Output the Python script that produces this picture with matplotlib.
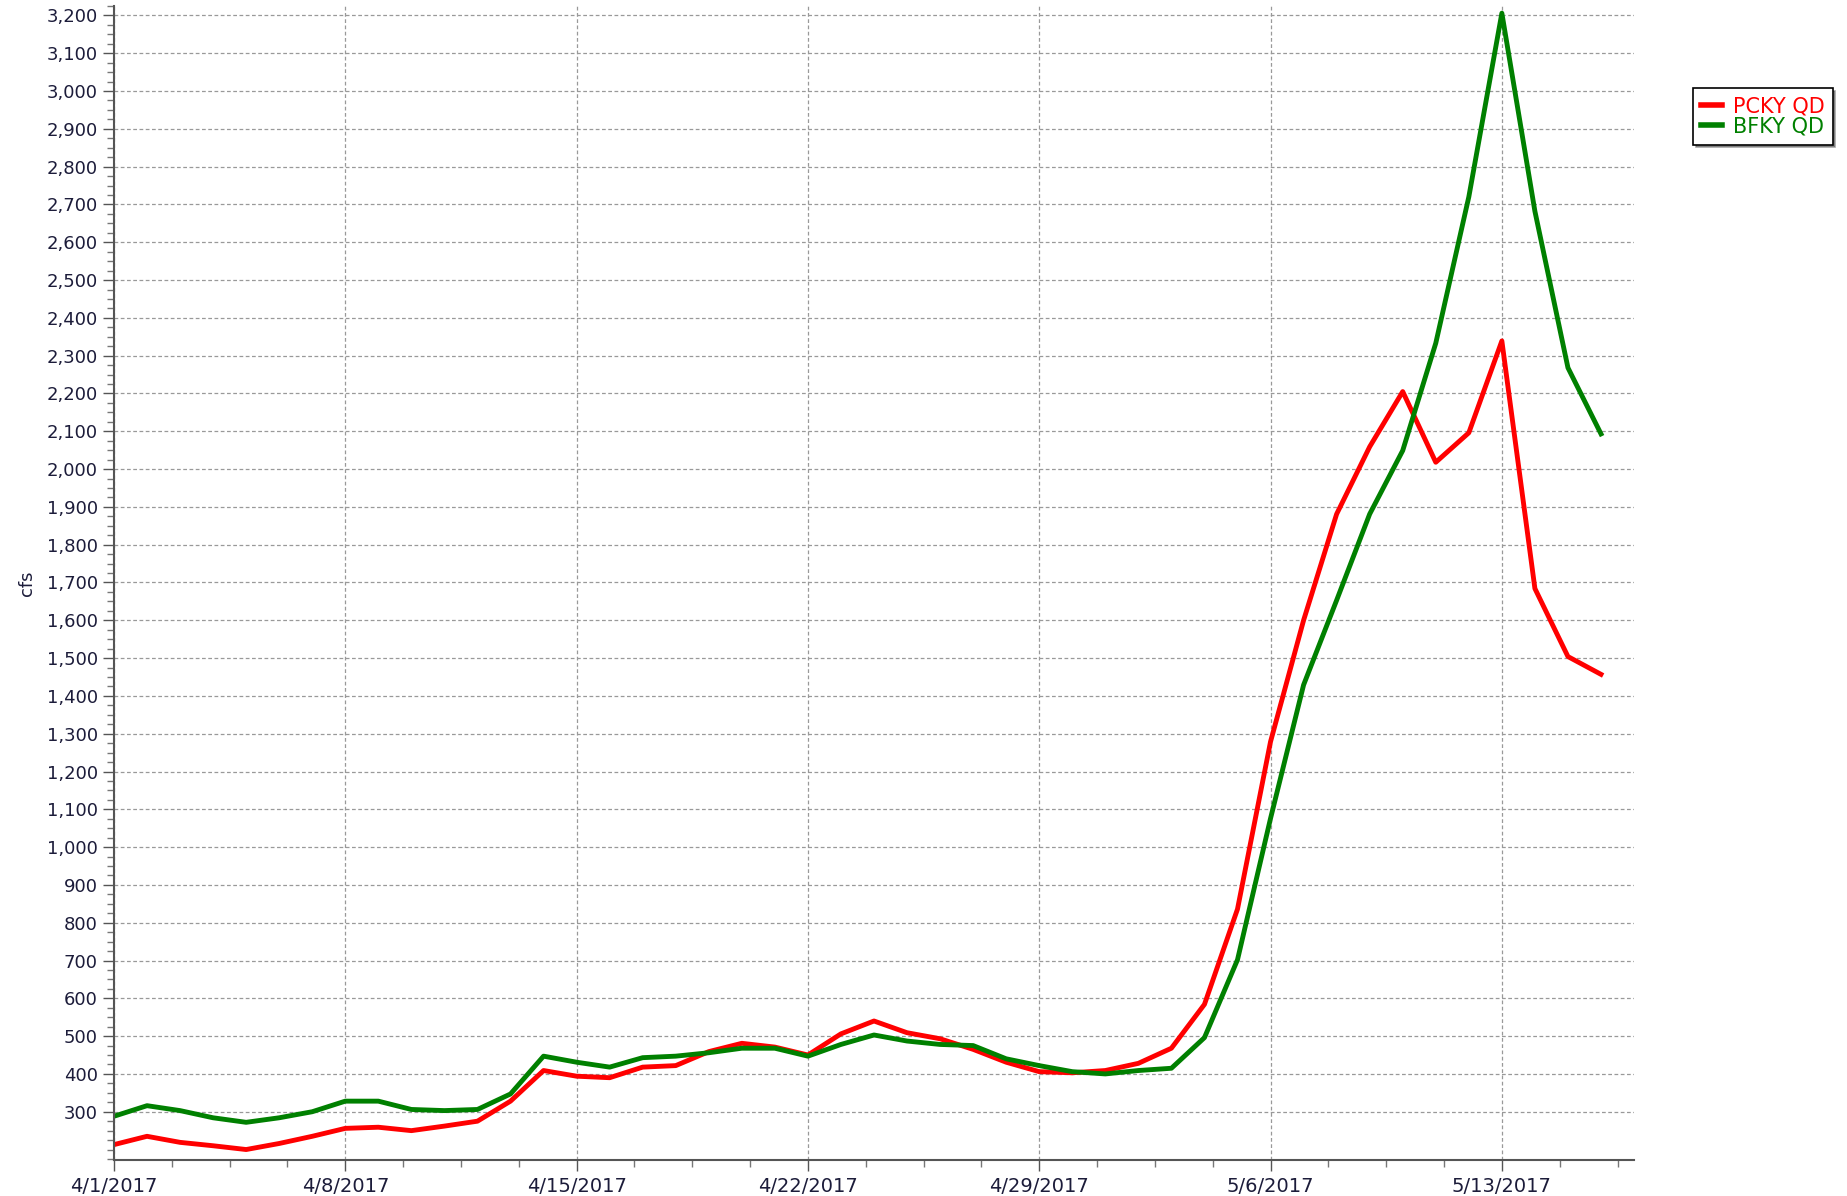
import numpy as np
import pandas as pd
import matplotlib
matplotlib.use("Agg")
import matplotlib.pyplot as plt
import matplotlib.dates as mdates
from matplotlib.ticker import FixedLocator, FuncFormatter, MultipleLocator

# daily discharge, cfs, 4/1/2017 .. 5/16/2017
dates = pd.date_range("2017-04-01", periods=46, freq="D")
pcky = [213, 235, 219, 210, 200, 216, 235, 256, 259, 250,
        262, 275, 328, 409, 394, 390, 418, 422, 459, 481,
        471, 450, 506, 540, 509, 493, 465, 431, 406, 403,
        409, 428, 468, 584, 836, 1279, 1600, 1881, 2059, 2205,
        2018, 2096, 2339, 1684, 1504, 1457]
bfky = [288, 316, 303, 284, 272, 284, 300, 328, 328, 306,
        303, 306, 347, 447, 431, 418, 443, 447, 456, 468,
        468, 447, 478, 503, 487, 478, 475, 440, 422, 406,
        400, 409, 415, 496, 702, 1076, 1429, 1653, 1881, 2049,
        2333, 2720, 3206, 2682, 2268, 2093]
series_names = ["PCKY QD", "BFKY QD"]
series_colors = ["#ff0000", "#008000"]

fig = plt.figure(figsize=(18.47, 11.96), dpi=100)
ax = fig.add_axes([0.0617, 0.030, 0.823, 0.965])

x = mdates.date2num(dates)
ax.plot(x, pcky, color=series_colors[0], lw=3.5, label=series_names[0])
ax.plot(x, bfky, color=series_colors[1], lw=3.5, label=series_names[1])

ax.set_xlim(x[0], x[0] + 46)
ax.set_ylim(172, 3225)

# x ticks: weekly majors, 4 minor intervals per week
ax.xaxis.set_major_locator(FixedLocator(x[::7]))
ax.xaxis.set_minor_locator(FixedLocator(np.arange(x[0], x[0] + 46.01, 1.75)))
ax.xaxis.set_major_formatter(FuncFormatter(
    lambda v, p: "%d/%d/%d" % (mdates.num2date(v).month, mdates.num2date(v).day, mdates.num2date(v).year)))

ax.yaxis.set_major_locator(FixedLocator(np.arange(300, 3201, 100)))
ax.yaxis.set_minor_locator(MultipleLocator(25))
ax.yaxis.set_major_formatter(FuncFormatter(lambda v, p: "{:,.0f}".format(v)))

tc = "#1c1c3a"
ax.tick_params(axis="both", which="major", labelsize=13, colors="#555555", labelcolor=tc, length=8, width=1)
ax.tick_params(axis="both", which="minor", colors="#777777", length=5, width=1)
ax.tick_params(axis="x", which="major", labelsize=14, pad=4)

ax.grid(True, which="major", color="#999999", ls=(0, (3, 2)), lw=0.9)
for s in ["top", "right"]:
    ax.spines[s].set_visible(False)
for s in ["left", "bottom"]:
    ax.spines[s].set_color("#555555")
    ax.spines[s].set_linewidth(1.5)

ax.set_ylabel("cfs", fontsize=13, color=tc, labelpad=8)

leg = fig.legend(loc="upper left", bbox_to_anchor=(0.9166, 0.9264), borderaxespad=0,
                 fontsize=15, frameon=True, fancybox=False, shadow=True, edgecolor="black",
                 labelcolor="linecolor", handlelength=1.0, handletextpad=0.5,
                 borderpad=0.4, labelspacing=0.0)
leg.get_frame().set_linewidth(1.2)
for h in leg.get_lines():
    h.set_linewidth(4)

fig.savefig("out.png", dpi=100)
